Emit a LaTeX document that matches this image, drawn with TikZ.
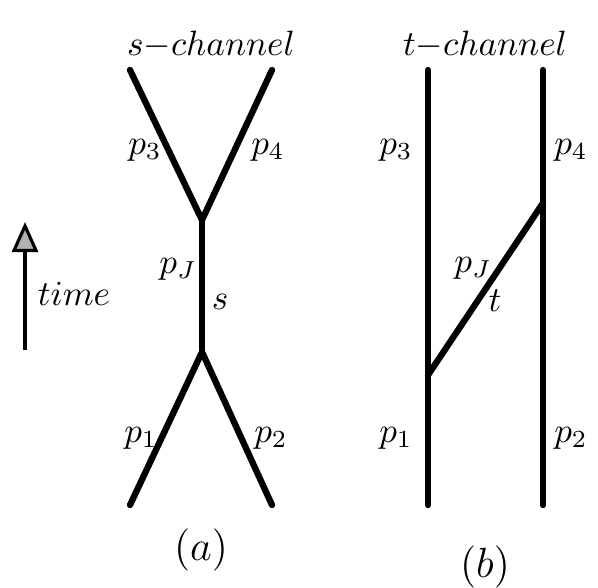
\documentclass[tikz,border=0pt]{standalone}
\usetikzlibrary{arrows.meta}

\begin{document}
\begin{tikzpicture}[
    x=0.01cm,y=-0.01cm,
    prop/.style={line width=1.8pt,line cap=round},
    lbl/.style={inner sep=0pt,font=\normalsize},
    ttl/.style={inner sep=0pt,font=\normalsize},
]
\useasboundingbox (0,0) rectangle (598,587);
% s-channel
\coordinate (a3) at (130,70);
\coordinate (a4) at (272,70);
\coordinate (av) at (202,220);
\coordinate (aw) at (202,352);
\coordinate (a1) at (130,505);
\coordinate (a2) at (272,505);
\draw[prop] (a3) -- (av) -- (a4);
\draw[prop] (av) -- (aw);
\draw[prop] (a1) -- (aw) -- (a2);
\node[ttl] (sch) at (211,45) {$s{-}channel$};
\node[lbl] (ap3) at (145,150) {$p_3$};
\node[lbl] (ap4) at (268,150) {$p_4$};
\node[lbl] (apj) at (178,269) {$p_J$};
\node[lbl] (as) at (220,302) {$s$};
\node[lbl] (ap1) at (141,438) {$p_1$};
\node[lbl] (ap2) at (271,438) {$p_2$};
\node[ttl,font=\large] (la) at (201,550) {$(a)$};
% time arrow
\coordinate (t0) at (25,350);
\coordinate (t1) at (25,222);
\draw[line width=0.9pt,-{Triangle[length=0.3cm,width=0.26cm,fill=gray!60]}] (t0) -- (t1);
\node[lbl] (time) at (74,294) {$time$};
% t-channel
\coordinate (b3) at (428,70);
\coordinate (b1) at (428,505);
\coordinate (b4) at (543,70);
\coordinate (b2) at (543,505);
\coordinate (bv) at (428,375);
\coordinate (bw) at (543,203);
\draw[prop] (b3) -- (b1);
\draw[prop] (b4) -- (b2);
\draw[prop] (bv) -- (bw);
\node[ttl] (tch) at (485,45) {$t{-}channel$};
\node[lbl] (bp3) at (396,150) {$p_3$};
\node[lbl] (bp4) at (571,150) {$p_4$};
\node[lbl] (bpj) at (473,268) {$p_J$};
\node[lbl] (bt) at (495,301) {$t$};
\node[lbl] (bp1) at (396,438) {$p_1$};
\node[lbl] (bp2) at (571,438) {$p_2$};
\node[ttl,font=\large] (lb) at (485,567) {$(b)$};
\end{tikzpicture}
\end{document}
